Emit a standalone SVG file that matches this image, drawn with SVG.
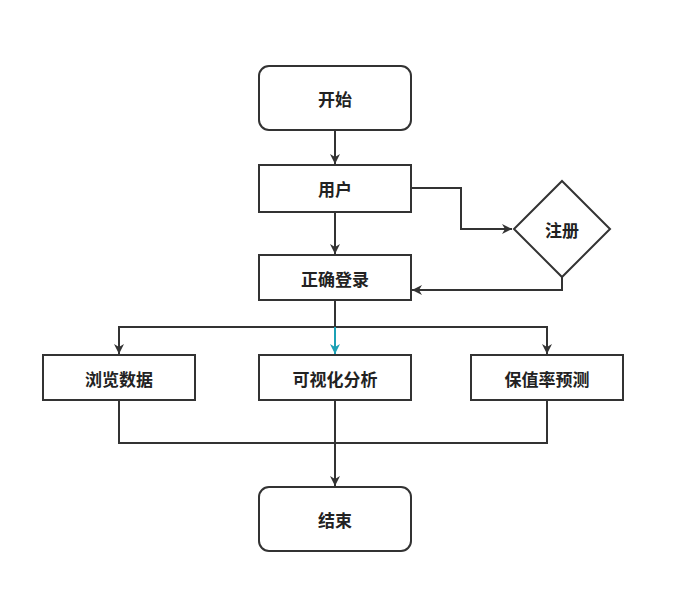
<svg xmlns="http://www.w3.org/2000/svg" width="683" height="591" viewBox="0 0 683 591">
<style>
.n{fill:#fff;stroke:#333;stroke-width:2}
.t{font-family:"Noto Sans CJK SC","Noto Sans",sans-serif;font-size:17px;font-weight:bold;fill:#222;text-anchor:middle;dominant-baseline:central}
.c{fill:none;stroke:#333;stroke-width:2}
</style>
<defs>
<marker id="a" viewBox="0 0 10 10" refX="10" refY="5" markerWidth="5" markerHeight="5" orient="auto" markerUnits="strokeWidth"><path d="M0,0L10,5L0,10L3,5z" fill="#333"/></marker>
<marker id="b" viewBox="0 0 10 10" refX="10" refY="5" markerWidth="5" markerHeight="5" orient="auto" markerUnits="strokeWidth"><path d="M0,0L10,5L0,10L3,5z" fill="#1ba1b5"/></marker>
</defs>
<rect width="683" height="591" fill="#fff"/>
<g id="connectors">
<path class="c" d="M335,130V164" marker-end="url(#a)"/>
<path class="c" d="M335,212V254" marker-end="url(#a)"/>
<path class="c" d="M411,188H461V229H512" marker-end="url(#a)"/>
<path class="c" d="M562,277V290H412" marker-end="url(#a)"/>
<path class="c" d="M335,300V327M119,354V327H547V354" marker-end="url(#a)"/>
<path class="c" d="M119,327V354" marker-end="url(#a)"/>
<path class="c" d="M335,327V354" style="stroke:#1ba1b5" marker-end="url(#b)"/>
<path class="c" d="M119,400V443H547V400M335,400V486" marker-end="url(#a)"/>
</g>
<g id="start"><rect class="n" x="259" y="66" width="152" height="64" rx="10"/><text class="t" x="335" y="98">开始</text></g>
<g id="user"><rect class="n" x="259" y="165" width="152" height="47"/><text class="t" x="335" y="188">用户</text></g>
<g id="register"><path class="n" d="M562,181L610,229L562,277L514,229Z"/><text class="t" x="562" y="229">注册</text></g>
<g id="login"><rect class="n" x="259" y="255" width="152" height="45"/><text class="t" x="335" y="278">正确登录</text></g>
<g id="browse"><rect class="n" x="43" y="355" width="152" height="45"/><text class="t" x="119" y="378">浏览数据</text></g>
<g id="visual"><rect class="n" x="259" y="355" width="152" height="45"/><text class="t" x="335" y="378">可视化分析</text></g>
<g id="predict"><rect class="n" x="471" y="355" width="152" height="45"/><text class="t" x="547" y="378">保值率预测</text></g>
<g id="end"><rect class="n" x="259" y="487" width="152" height="64" rx="10"/><text class="t" x="335" y="519">结束</text></g>
</svg>
